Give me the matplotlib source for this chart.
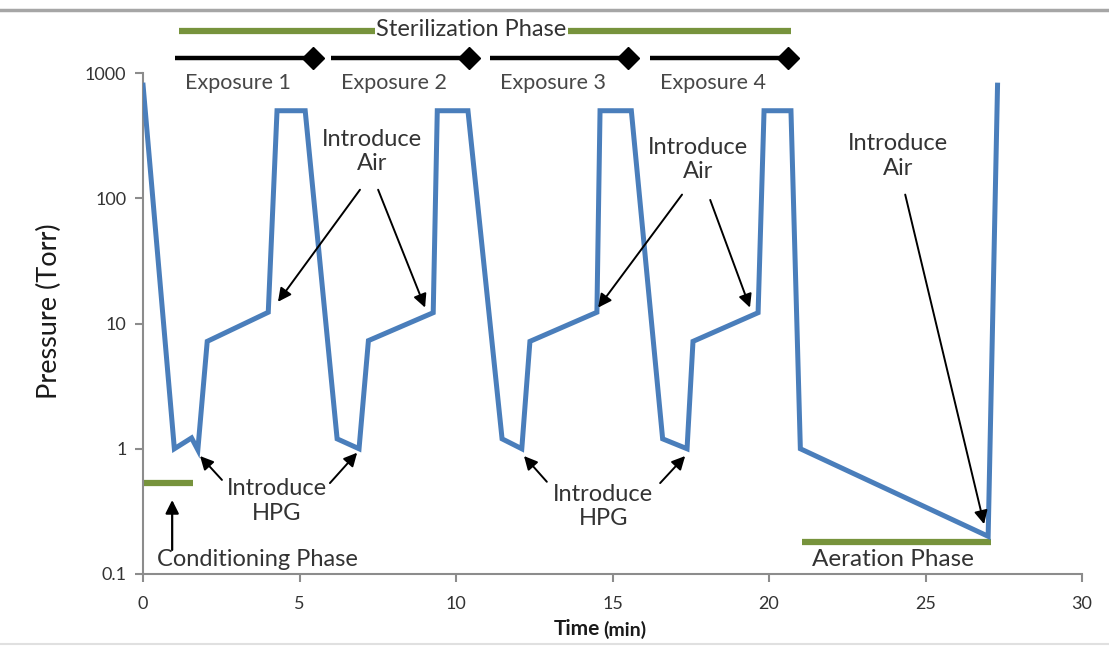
import matplotlib
matplotlib.use("Agg")
import matplotlib.pyplot as plt
from matplotlib.lines import Line2D

plt.rcParams['font.family'] = ['Lato', 'DejaVu Sans']

# pressure trace (min, Torr)
time = [0, 1.0, 1.55, 1.75, 2.05, 4.0, 4.28, 5.18, 6.2, 6.9, 7.2, 9.27, 9.4, 10.38,
        11.47, 12.1, 12.36, 14.5, 14.6, 15.6, 16.6, 17.38, 17.57, 19.65, 19.84, 20.7,
        21.0, 27.0, 27.3]
pressure = [800, 1.0, 1.22, 0.98, 7.2, 12.3, 500, 500, 1.2, 1.0, 7.3, 12.2, 500, 500,
            1.2, 1.0, 7.2, 12.3, 500, 500, 1.2, 1.0, 7.2, 12.2, 500, 500,
            1.0, 0.2, 800]

# exposure intervals (start, end) in min
exposures = [(1.02, 5.43), (6.0, 10.4), (11.1, 15.5), (16.2, 20.6)]
exposure_names = ["Exposure 1", "Exposure 2", "Exposure 3", "Exposure 4"]
sterilization = (1.15, 20.7)
conditioning = (0.0, 1.6)
aeration = (21.05, 27.1)

x_ticks = [0, 5, 10, 15, 20, 25, 30]
y_ticks = [0.1, 1, 10, 100, 1000]
y_ticklabels = ["0.1", "1", "10", "100", "1000"]

blue = '#4A7EBB'
green = '#77933C'
txt = '#333333'

fig = plt.figure(figsize=(11.09, 6.48), dpi=100)
ax = fig.add_axes([0.129, 0.1142, 0.8467, 0.7731])

ax.plot(time, pressure, color=blue, linewidth=3.6, solid_joinstyle='miter', zorder=3)

ax.set_yscale('log')
ax.set_xlim(0, 30)
ax.set_ylim(0.1, 1000)
ax.set_xticks(x_ticks)
ax.set_xticklabels([str(t) for t in x_ticks])
ax.set_yticks(y_ticks)
ax.set_yticklabels(y_ticklabels)
ax.minorticks_off()
for s in ['top', 'right']:
    ax.spines[s].set_visible(False)
for s in ['left', 'bottom']:
    ax.spines[s].set_color('#8c8c8c')
    ax.spines[s].set_linewidth(1.5)
ax.tick_params(colors='#8c8c8c', width=1.5, length=6, labelsize=13, labelcolor=txt, pad=6)
ax.tick_params(axis='x', pad=10)

ax.set_ylabel("Pressure (Torr)", fontsize=19.5, color='#1a1a1a')
ax.yaxis.set_label_coords(-0.086, 0.525)

# x label with smaller unit
ax.text(0.487, -0.11, "Time", transform=ax.transAxes, ha='right', va='center',
        fontsize=15, fontweight='bold', color='#1a1a1a')
ax.text(0.49, -0.112, "(min)", transform=ax.transAxes, ha='left', va='center',
        fontsize=14, fontweight='bold', color='#1a1a1a')

# phase bars
ax.plot(sterilization, [2160, 2160], color=green, linewidth=4.5, clip_on=False,
        solid_capstyle='butt')
ax.text(10.48, 2215, "Sterilization Phase", ha='center', va='center', fontsize=17,
        color=txt, bbox=dict(facecolor='white', edgecolor='none', pad=1), clip_on=False)

for (x0, x1), name in zip(exposures, exposure_names):
    ax.plot([x0, x1], [1316, 1316], color='black', linewidth=3.2, clip_on=False,
            marker='D', markevery=[1], markersize=11, solid_capstyle='butt')
    ax.text((x0 + x1) / 2 - 0.2, 830, name, ha='center', va='center', fontsize=15.5,
            color='#474747')

ax.plot(conditioning, [0.532, 0.532], color=green, linewidth=4.5, solid_capstyle='butt')
ax.text(3.64, 0.131, "Conditioning Phase", ha='center', va='center', fontsize=17, color=txt)
ax.annotate("", xy=(0.93, 0.41), xytext=(0.93, 0.148),
            arrowprops=dict(arrowstyle='-|>', color='black', lw=1.6, mutation_scale=20))

ax.plot(aeration, [0.18, 0.18], color=green, linewidth=4.5, solid_capstyle='butt')
ax.text(23.96, 0.131, "Aeration Phase", ha='center', va='center', fontsize=17.5, color=txt)

arrow = dict(arrowstyle='-|>', color='black', lw=1.4, mutation_scale=20, shrinkA=0, shrinkB=0)

# introduce air
air_labels = [(7.32, 235), (17.73, 203), (24.12, 218)]
air_arrows = [((6.93, 117), (4.31, 14.9)), ((7.51, 117), (9.01, 13.4)),
              ((17.22, 107), (14.54, 13.4)), ((18.12, 97), (19.39, 13.4)),
              ((24.35, 107), (26.87, 0.25))]
for x, y in air_labels:
    ax.text(x, y, "Introduce\nAir", ha='center', va='center', fontsize=17, color=txt,
            linespacing=1.2)
for tail, head in air_arrows:
    ax.annotate("", xy=head, xytext=tail, arrowprops=arrow)

# introduce HPG
hpg_labels = [(4.28, 0.383), (14.7, 0.344)]
hpg_arrows = [((2.52, 0.564), (1.82, 0.875)), ((5.97, 0.532), (6.84, 0.93)),
              ((12.9, 0.545), (12.17, 0.875)), ((16.52, 0.532), (17.32, 0.875))]
for x, y in hpg_labels:
    ax.text(x, y, "Introduce\nHPG", ha='center', va='center', fontsize=17, color=txt,
            linespacing=1.2)
for tail, head in hpg_arrows:
    ax.annotate("", xy=head, xytext=tail, arrowprops=arrow)

# screenshot frame lines
fig.add_artist(Line2D([0, 1], [0.984, 0.984], transform=fig.transFigure,
                      color='#a6a6a6', linewidth=2.5))
fig.add_artist(Line2D([0, 1], [0.006, 0.006], transform=fig.transFigure,
                      color='#e0e0e0', linewidth=1.5))

fig.savefig("out.png", dpi=100)
